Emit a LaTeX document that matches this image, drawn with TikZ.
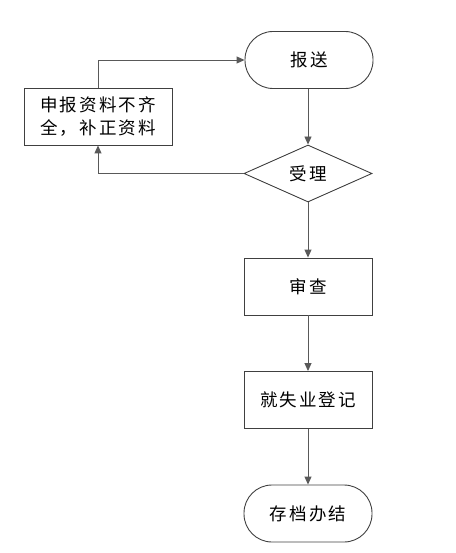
\documentclass[tikz,border=0pt]{standalone}
\usepackage{fontspec}
\newfontfamily\cjk[LetterSpace=12]{Noto Sans CJK SC}
\usetikzlibrary{shapes.geometric,arrows.meta}
\begin{document}
\begin{tikzpicture}[x=1pt,y=-1pt,
  every node/.style={font=\cjk\fontsize{17.5}{23}\selectfont, text=black},
  box/.style={draw=black!75, line width=0.9pt, minimum width=128pt, minimum height=57pt, inner sep=0pt},
  term/.style={box, rounded corners=28pt},
  dia/.style={draw=black!75, line width=0.9pt, diamond, minimum width=128pt, minimum height=57pt, inner sep=0pt, aspect=2.245},
  conn/.style={draw=black!65, line width=0.9pt, -{Triangle[length=8pt,width=7pt]}}
]
\useasboundingbox (0,0) rectangle (455,553);
\node[term] (send) at (309,60) {报送};
\node[box, minimum width=148pt, align=center] (fix) at (98,116.5) {申报资料不齐\\全，补正资料};
\node[dia] (acc) at (308,173.5) {受理};
\node[box] (rev) at (308,286.5) {审查};
\node[box] (reg) at (308,400) {就失业登记};
\node[term] (arc) at (308,513.5) {存档办结};
\coordinate (c1) at (98,60);
\draw[conn] (send.south -| acc.north) -- (acc.north);
\draw[conn] (acc.west) -- (acc.west -| fix.south) -- (fix.south);
\draw[conn] (fix.north) -- (c1) -- (send.west);
\draw[conn] (acc.south) -- (rev.north -| acc.south);
\draw[conn] (rev.south -| acc.south) -- (reg.north -| acc.south);
\draw[conn] (reg.south -| acc.south) -- (arc.north -| acc.south);
\end{tikzpicture}
\end{document}
